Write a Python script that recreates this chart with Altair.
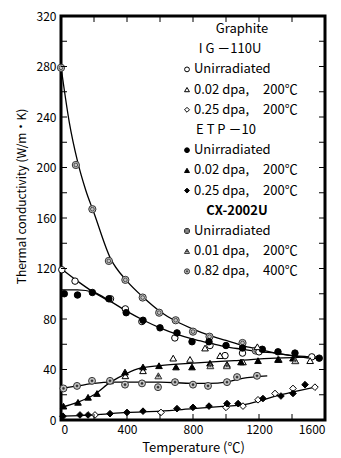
import altair as alt
import pandas as pd

FONT = "Noto Sans CJK JP"

# ---------------- data ----------------
# CX-2002U unirradiated (double circle)
cxu_T = [0, 90, 190, 290, 390, 495, 595, 695, 800, 900, 1100, 1180]
cxu_v = [279, 202, 167, 126, 111, 97, 85, 79, 70, 66, 61, 55]
# IG-110U unirradiated (open circle)
igu_T = [5, 85, 300, 390, 490, 690, 903, 994, 1100, 1200, 1520]
igu_v = [119, 110, 96, 88, 78, 65, 59, 51, 53, 54, 50]
# ETP-10 unirradiated (filled circle)
etu_T = [20, 100, 190, 290, 395, 497, 600, 703, 794, 897, 1000, 1100, 1220, 1315, 1418, 1565]
etu_v = [100, 99, 101, 96, 85, 79, 73, 69, 62, 62, 59, 57, 56, 54, 53, 49]
# IG-110U 0.02 dpa (open triangle)
ig2_T = [390, 497, 680, 782, 873, 964, 1103, 1190, 1320, 1420, 1510]
ig2_v = [35, 39, 49, 48, 57, 51, 46, 58, 48, 47, 47]
# ETP-10 0.02 dpa (filled triangle)
et2_T = [15, 103, 164, 218, 297, 388, 497, 594, 697, 794, 903, 1006, 1091, 1194, 1315, 1406]
et2_v = [11, 14, 18, 21, 31, 38, 42, 43, 42, 42, 45, 44, 46, 47, 48, 49]
# CX-2002U 0.01 dpa (grey triangle)
cx1_T = [590, 905, 1005, 1420]
cx1_v = [35, 43, 43, 47]
# IG-110U 0.25 dpa (open diamond)
ig25_T = [206, 606, 1000, 1103, 1194, 1297, 1406, 1539]
ig25_v = [4, 6, 10, 11, 16, 21, 25, 26]
# ETP-10 0.25 dpa (filled diamond)
et25_T = [12, 115, 164, 297, 400, 497, 703, 800, 897, 1006, 1073, 1224, 1333, 1406, 1479]
et25_v = [3, 4, 4, 5, 6, 7, 9, 10, 11, 13, 13, 17, 19, 21, 28]
# CX-2002U 0.82 dpa (grey dotted circle)
cx82_T = [15, 97, 188, 297, 388, 491, 588, 691, 800, 891, 1006, 1067, 1188]
cx82_v = [25, 27, 31, 31, 28, 29, 26, 30, 28, 27, 30, 34, 35]

# fitted curves
f_cxu_T = [0, 50, 100, 150, 200, 300, 400, 500, 600, 700, 800, 900, 1000, 1100, 1200, 1300, 1400, 1500]
f_cxu_v = [280, 236, 205, 182, 164, 128, 110, 97, 86, 78, 72, 67, 63, 59, 56, 53, 51, 49]
f_igu_T = [0, 100, 200, 280]
f_igu_v = [120, 110, 101, 95]
f_etu_T = [0, 100, 200, 300, 400, 500, 600, 700, 800, 900, 1000, 1100, 1200, 1300, 1400, 1500, 1570]
f_etu_v = [103, 103, 101, 94, 86, 79, 73, 68, 64, 61, 58, 56, 54, 53, 51, 50, 48]
f_et2_T = [0, 100, 200, 300, 400, 480, 600, 800, 1050, 1300, 1550]
f_et2_v = [10, 14, 20, 30, 37, 41, 43, 45, 47, 49, 50]
f_cx82_T = [0, 100, 200, 300, 400, 600, 800, 900, 1000, 1100, 1250]
f_cx82_v = [25, 27, 29, 30, 30, 30, 29, 29, 30, 33, 35]
f_low_T = [0, 200, 400, 600, 800, 1000, 1100, 1200, 1300, 1400, 1540]
f_low_v = [3, 4, 6, 7, 9, 11, 12, 15, 19, 22, 26]

x_ticks = [0, 200, 400, 600, 800, 1000, 1200, 1400, 1600]
y_ticks = list(range(0, 321, 20))
x_labels = [0, 400, 800, 1200, 1600]
y_labels = [0, 40, 80, 120, 160, 200, 240, 280, 320]

W, H = 264, 404

X = alt.X("T:Q", scale=alt.Scale(domain=[0, 1600], nice=False, zero=False),
          axis=alt.Axis(values=x_labels, title="Temperature (℃)", titleFontSize=13,
                        titlePadding=6, labelPadding=4, labelFontSize=12, format="d"))
Y = alt.Y("v:Q", scale=alt.Scale(domain=[0, 320], nice=False),
          axis=alt.Axis(values=y_labels, title="Thermal conductivity  (W/m・K)",
                        titleFontSize=12, titleX=-40, titleY=180, titleAngle=-90,
                        titleAlign="center", titleBaseline="middle",
                        labelPadding=5, labelFontSize=12, format="d"))

GREY = "#c4c4c4"
DARK = "#333333"

STYLES = {
    "igu": [dict(shape="circle", fill="white", stroke="black", size=42, strokeWidth=1)],
    "etu": [dict(shape="circle", fill="black", stroke="black", size=42, strokeWidth=1)],
    "cxu": [dict(shape="circle", fill=GREY, stroke=DARK, size=52, strokeWidth=1),
            dict(shape="circle", fill=GREY, stroke=DARK, size=14, strokeWidth=0.8)],
    "ig2": [dict(shape="triangle-up", fill="white", stroke="black", size=44, strokeWidth=1)],
    "et2": [dict(shape="triangle-up", fill="black", stroke="black", size=44, strokeWidth=1)],
    "cx1": [dict(shape="triangle-up", fill=GREY, stroke=DARK, size=48, strokeWidth=1),
            dict(shape="circle", fill=DARK, stroke=DARK, size=4, strokeWidth=0.5)],
    "ig25": [dict(shape="diamond", fill="white", stroke="black", size=44, strokeWidth=1)],
    "et25": [dict(shape="diamond", fill="black", stroke="black", size=44, strokeWidth=1)],
    "cx82": [dict(shape="circle", fill=GREY, stroke=DARK, size=48, strokeWidth=1),
             dict(shape="circle", fill=DARK, stroke=DARK, size=5, strokeWidth=0.5)],
}


def pts(T, v, key):
    df = pd.DataFrame({"T": T, "v": v})
    return [alt.Chart(df).mark_point(filled=True, opacity=1, fillOpacity=1, **st).encode(x=X, y=Y)
            for st in STYLES[key]]


def line(T, v):
    df = pd.DataFrame({"T": T, "v": v})
    return alt.Chart(df).mark_line(color="black", strokeWidth=1.3, interpolate="monotone").encode(x=X, y=Y)


layers = []
for T, v in [(f_cxu_T, f_cxu_v), (f_igu_T, f_igu_v), (f_etu_T, f_etu_v),
             (f_et2_T, f_et2_v), (f_cx82_T, f_cx82_v), (f_low_T, f_low_v)]:
    layers.append(line(T, v))

for T, v, k in [(cxu_T, cxu_v, "cxu"), (igu_T, igu_v, "igu"), (etu_T, etu_v, "etu"),
                (ig2_T, ig2_v, "ig2"), (et2_T, et2_v, "et2"), (cx1_T, cx1_v, "cx1"),
                (cx82_T, cx82_v, "cx82"), (ig25_T, ig25_v, "ig25"), (et25_T, et25_v, "et25")]:
    layers += pts(T, v, k)

# inward ticks
xt = pd.DataFrame({"T": x_ticks})
yt = pd.DataFrame({"v": y_ticks})
TL = 6
layers.append(alt.Chart(xt).mark_rule(color="black", strokeWidth=1).encode(x=X, y=alt.value(H), y2=alt.value(H - TL)))
layers.append(alt.Chart(xt).mark_rule(color="black", strokeWidth=1).encode(x=X, y=alt.value(0), y2=alt.value(TL)))
layers.append(alt.Chart(yt).mark_rule(color="black", strokeWidth=1).encode(y=Y, x=alt.value(0), x2=alt.value(TL)))
layers.append(alt.Chart(yt).mark_rule(color="black", strokeWidth=1).encode(y=Y, x=alt.value(W), x2=alt.value(W - TL)))

# legend (drawn inside the plot)
one = pd.DataFrame({"a": [0]})
legend_rows = [
    ("head", "Graphite", None, None),
    ("head", "I G －110U", None, None),
    ("item", "Unirradiated", None, "igu"),
    ("item", "0.02 dpa,", "200℃", "ig2"),
    ("item", "0.25 dpa,", "200℃", "ig25"),
    ("head", "E T P －10", None, None),
    ("item", "Unirradiated", None, "etu"),
    ("item", "0.02 dpa,", "200℃", "et2"),
    ("item", "0.25 dpa,", "200℃", "et25"),
    ("headb", "CX-2002U", None, None),
    ("item", "Unirradiated", None, "cxu"),
    ("item", "0.01 dpa,", "200℃", "cx1"),
    ("item", "0.82 dpa,", "400℃", "cx82"),
]
head_x = {"Graphite": 181, "I G －110U": 169, "E T P －10": 165, "CX-2002U": 176}
y0, dy = 13, 20.2
sym_x, txt_x, tmp_x = 126, 133, 202
for i, (kind, t1, t2, key) in enumerate(legend_rows):
    yy = y0 + dy * i
    if kind.startswith("head"):
        layers.append(alt.Chart(one).mark_text(text=t1, font=FONT, fontSize=13, align="center",
                                               baseline="middle",
                                               fontWeight="bold" if kind == "headb" else "normal",
                                               color="black").encode(x=alt.value(head_x[t1]), y=alt.value(yy)))
    else:
        for st in STYLES[key]:
            s = dict(st)
            s["size"] = s["size"] * 0.55
            layers.append(alt.Chart(one).mark_point(filled=True, opacity=1, **s).encode(
                x=alt.value(sym_x), y=alt.value(yy)))
        layers.append(alt.Chart(one).mark_text(text=t1, font=FONT, fontSize=13, align="left",
                                               baseline="middle", color="black").encode(
            x=alt.value(txt_x), y=alt.value(yy)))
        if t2:
            layers.append(alt.Chart(one).mark_text(text=t2, font=FONT, fontSize=13, align="left",
                                                   baseline="middle", color="black").encode(
                x=alt.value(tmp_x), y=alt.value(yy)))

chart = alt.layer(*layers).properties(
    width=W, height=H,
    autosize=alt.AutoSizeParams(type="none"),
    padding={"left": 61, "top": 16, "right": 16, "bottom": 38},
).configure_view(stroke="black", strokeWidth=3).configure_axis(
    grid=False, ticks=False, domain=False, labelFont=FONT, titleFont=FONT,
    labelColor="black", titleColor="black", titleFontWeight="normal"
)

chart.save("out.html", embed_options={"renderer": "svg", "actions": False})
